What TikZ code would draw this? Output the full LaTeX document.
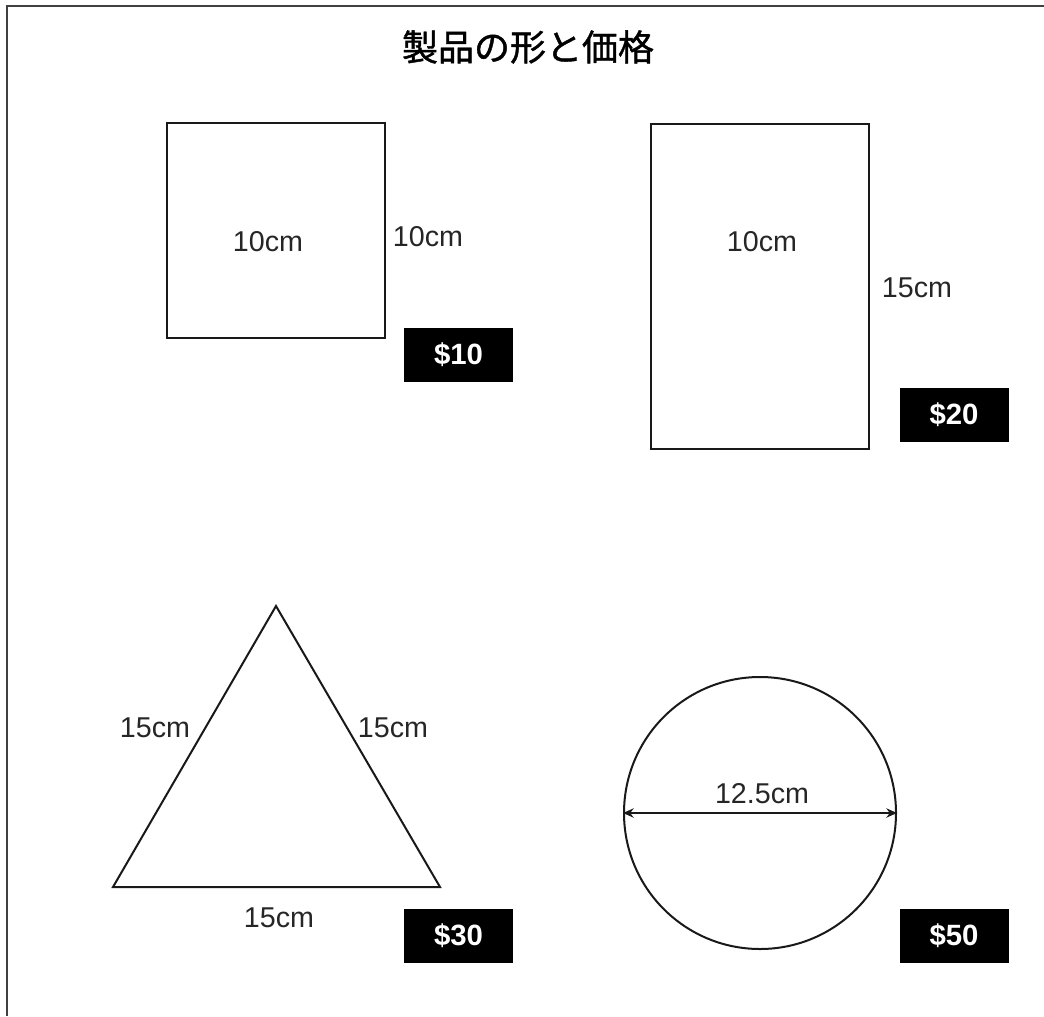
\documentclass[tikz,border=0pt]{standalone}
\usepackage{fontspec}
\setmainfont{Liberation Sans}
\newfontfamily\jpfont{Noto Sans CJK JP}[FakeBold=1.2]
\usetikzlibrary{arrows.meta}

\begin{document}
\begin{tikzpicture}
 [x=0.75pt,y=-0.75pt,
% Shape style
    outline/.style={draw=black!90,line width=1.5pt},
% Label style
    dim/.style={font=\fontsize{21.5}{24}\selectfont,text=black!85,inner sep=0pt},
% Price tag style
    price/.style={fill=black,text=white,inner sep=0pt,
        font=\fontsize{22}{24}\selectfont\bfseries,
        minimum width=81.75pt,minimum height=40pt},
% Title and frame style
    title/.style={font=\jpfont\fontsize{27}{30}\selectfont},
    frame/.style={draw=black!75,line width=1.5pt}
    ]
 \useasboundingbox (0,0) rectangle (1044,1016);
%% Frame and title
 \coordinate (fbl) at (7,1016);
 \coordinate (ftl) at (7,6);
 \coordinate (ftr) at (1044,6);
 \draw [frame] (fbl) -- (ftl) -- (ftr);
 \node (title) [title] at (528,47) {製品の形と価格};
%% Square
 \node (sq) [outline,minimum width=163.5pt,minimum height=161.25pt] at (276,230.5) {};
 \node (sqw) [dim] at (268,242) {10cm};
 \node (sqh) [dim] at (428,237) {10cm};
 \node (p10) [price] at (458.5,355) {\$10};
%% Rectangle
 \node (rect) [outline,minimum width=163.5pt,minimum height=243.75pt] at (760,286.5) {};
 \node (rectw) [dim] at (762,242) {10cm};
 \node (recth) [dim] at (917,288) {15cm};
 \node (p20) [price] at (954,415) {\$20};
%% Triangle
 \coordinate (apex) at (276,606);
 \coordinate (tbl) at (113,887);
 \coordinate (tbr) at (440,887);
 \draw [outline,line join=miter] (apex) -- (tbl) -- (tbr) -- cycle;
 \node (tril) [dim] at (155,728) {15cm};
 \node (trir) [dim] at (393,728) {15cm};
 \node (trib) [dim] at (279,918) {15cm};
 \node (p30) [price] at (458.5,936) {\$30};
%% Circle
 \node (circ) [outline,circle,inner sep=0pt,minimum size=204pt] at (760,813) {};
 \draw [black!90,line width=1.4pt,{Stealth[length=8pt,width=7pt]}-{Stealth[length=8pt,width=7pt]}] (circ.west) -- (circ.east);
 \node (circd) [dim] at (762,794) {12.5cm};
 \node (p50) [price] at (954,936) {\$50};
\end{tikzpicture}
\end{document}
